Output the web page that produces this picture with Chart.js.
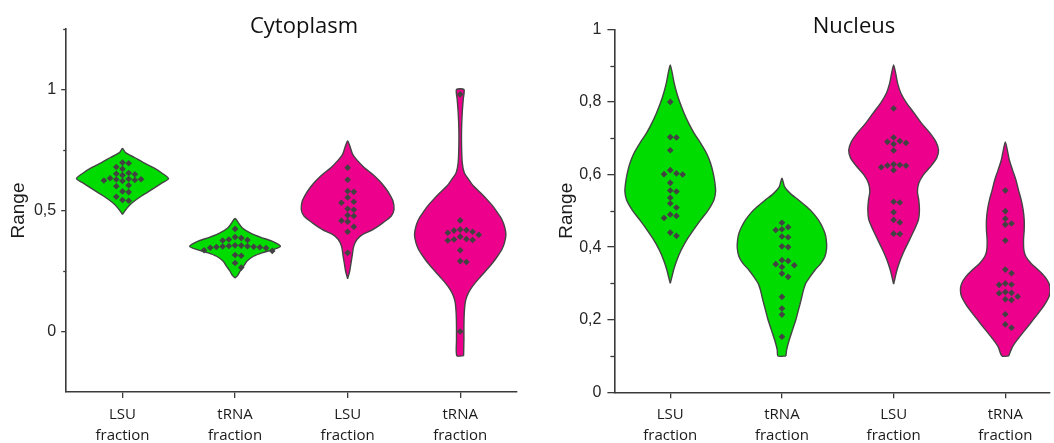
<!DOCTYPE html>
<html>
<head>
<meta charset="utf-8">
<title>Cytoplasm / Nucleus</title>
<script src="https://cdn.jsdelivr.net/npm/chart.js@4.4.1/dist/chart.umd.min.js"></script>
<style>
  html, body { margin: 0; padding: 0; background: #fff; overflow: hidden; }
  #wrap { position: relative; width: 1054px; height: 443px; }
  .panel { position: absolute; top: 0; width: 527px; height: 443px; }
  .panel canvas { display: block; }
  .title { position: absolute; top: 13px; width: 200px; text-align: center; font: 22px/22px 'Open Sans', sans-serif; color: #111; }
</style>
</head>
<body>
<div id="wrap">
  <div class="panel" style="left:0"><canvas id="cytoChart" width="527" height="443"></canvas></div>
  <div class="panel" style="left:527px"><canvas id="nucChart" width="527" height="443"></canvas></div>
  <div class="title" style="left:204px">Cytoplasm</div>
  <div class="title" style="left:754px">Nucleus</div>
</div>
<script>
// categories on the x axis (same for both panels)
const categories = [['LSU', 'fraction'], ['tRNA', 'fraction'], ['LSU', 'fraction'], ['tRNA', 'fraction']];
const categoryPos = [1, 2, 3, 4];

// y ticks
const cytoTicks = [0, 0.5, 1];
const cytoTickLabels = ['0', '0,5', '1'];
const cytoMinorTicks = [0.25, 0.75, 1.25];
const nucTicks = [0, 0.2, 0.4, 0.6, 0.8, 1];
const nucTickLabels = ['0', '0,2', '0,4', '0,6', '0,8', '1'];
const nucMinorTicks = [0.1, 0.3, 0.5, 0.7, 0.9];

// violin outlines: levels (y) and half widths (in category units)
const cytoLsuLevels = [0.484, 0.512, 0.533, 0.560, 0.588, 0.615, 0.632, 0.656, 0.677, 0.698, 0.719, 0.739, 0.756];
const cytoLsuWidths = [0, 0.044, 0.089, 0.169, 0.266, 0.355, 0.409, 0.346, 0.275, 0.186, 0.107, 0.027, 0];
const cytoTrnaLevels = [0.221, 0.232, 0.249, 0.269, 0.290, 0.311, 0.325, 0.339, 0.352, 0.373, 0.390, 0.408, 0.428, 0.449, 0.467];
const cytoTrnaWidths = [0, 0.024, 0.045, 0.075, 0.105, 0.164, 0.239, 0.343, 0.403, 0.328, 0.224, 0.134, 0.065, 0.03, 0];
const cytoLsuPinkLevels = [0.218, 0.249, 0.283, 0.318, 0.352, 0.380, 0.401, 0.421, 0.449, 0.477, 0.504, 0.539, 0.567, 0.594, 0.622, 0.649, 0.677, 0.705, 0.732, 0.760, 0.787];
const cytoLsuPinkWidths = [0, 0.018, 0.03, 0.042, 0.054, 0.083, 0.134, 0.224, 0.313, 0.388, 0.412, 0.403, 0.373, 0.334, 0.284, 0.224, 0.149, 0.09, 0.045, 0.024, 0];
const cytoTrnaPinkLevels = [-0.1, -0.034, 0.021, 0.076, 0.118, 0.145, 0.173, 0.201, 0.228, 0.256, 0.283, 0.311, 0.339, 0.366, 0.401, 0.435, 0.463, 0.491, 0.518, 0.546, 0.574, 0.601, 0.629, 0.656, 0.698, 0.767, 0.836, 0.905, 0.960, 1.0];
const cytoTrnaPinkWidths = [0.03, 0.033, 0.033, 0.036, 0.044, 0.059, 0.089, 0.133, 0.184, 0.237, 0.287, 0.331, 0.37, 0.393, 0.406, 0.393, 0.37, 0.331, 0.29, 0.237, 0.178, 0.118, 0.074, 0.036, 0.018, 0.012, 0.012, 0.018, 0.027, 0.033];

const nucLsuLevels = [0.300, 0.318, 0.337, 0.364, 0.392, 0.420, 0.447, 0.475, 0.502, 0.530, 0.553, 0.576, 0.603, 0.631, 0.658, 0.686, 0.714, 0.741, 0.769, 0.796, 0.824, 0.851, 0.879, 0.902];
const nucLsuWidths = [0, 0.015, 0.03, 0.059, 0.098, 0.148, 0.207, 0.273, 0.34, 0.391, 0.406, 0.4, 0.385, 0.361, 0.326, 0.273, 0.213, 0.166, 0.124, 0.089, 0.059, 0.036, 0.018, 0];
const nucTrnaLevels = [0.100, 0.117, 0.144, 0.172, 0.199, 0.227, 0.254, 0.282, 0.300, 0.318, 0.337, 0.355, 0.374, 0.397, 0.420, 0.438, 0.456, 0.475, 0.493, 0.511, 0.530, 0.548, 0.566, 0.590];
const nucTrnaWidths = [0.036, 0.042, 0.065, 0.095, 0.124, 0.148, 0.171, 0.193, 0.213, 0.251, 0.296, 0.349, 0.385, 0.4, 0.397, 0.385, 0.361, 0.326, 0.281, 0.222, 0.148, 0.074, 0.024, 0];
const nucLsuPinkLevels = [0.298, 0.318, 0.337, 0.364, 0.392, 0.420, 0.447, 0.475, 0.502, 0.530, 0.553, 0.576, 0.599, 0.622, 0.645, 0.667, 0.690, 0.714, 0.741, 0.769, 0.796, 0.824, 0.851, 0.879, 0.902];
const nucLsuPinkWidths = [0, 0.015, 0.03, 0.059, 0.098, 0.142, 0.184, 0.222, 0.231, 0.225, 0.213, 0.225, 0.266, 0.331, 0.385, 0.402, 0.379, 0.326, 0.251, 0.184, 0.118, 0.065, 0.036, 0.018, 0];
const nucTrnaPinkLevels = [0.100, 0.126, 0.149, 0.172, 0.195, 0.218, 0.240, 0.263, 0.282, 0.300, 0.318, 0.337, 0.355, 0.374, 0.392, 0.420, 0.447, 0.475, 0.502, 0.530, 0.557, 0.585, 0.612, 0.640, 0.667, 0.690];
const nucTrnaPinkWidths = [0.03, 0.065, 0.118, 0.178, 0.237, 0.296, 0.349, 0.391, 0.402, 0.391, 0.355, 0.296, 0.231, 0.184, 0.166, 0.163, 0.169, 0.169, 0.16, 0.142, 0.118, 0.095, 0.065, 0.036, 0.018, 0];

// individual measurements
const cytoLsuDots = [0.698, 0.695, 0.680, 0.672, 0.655, 0.652, 0.650, 0.646, 0.633, 0.630, 0.629, 0.628, 0.626, 0.624, 0.622, 0.604, 0.600, 0.579, 0.576, 0.557, 0.543, 0.540];
const cytoTrnaDots = [0.424, 0.390, 0.386, 0.380, 0.378, 0.376, 0.356, 0.355, 0.353, 0.352, 0.351, 0.350, 0.349, 0.348, 0.346, 0.345, 0.336, 0.333, 0.316, 0.313, 0.283, 0.264];
const cytoLsuPinkDots = [0.677, 0.627, 0.580, 0.577, 0.554, 0.536, 0.532, 0.507, 0.503, 0.480, 0.477, 0.458, 0.454, 0.433, 0.412, 0.325];
const cytoTrnaPinkDots = [0.980, 0.459, 0.421, 0.419, 0.417, 0.412, 0.408, 0.400, 0.392, 0.382, 0.380, 0.378, 0.376, 0.336, 0.291, 0.287, 0.000];
const nucLsuDots = [0.800, 0.703, 0.702, 0.667, 0.612, 0.603, 0.601, 0.600, 0.577, 0.556, 0.553, 0.536, 0.520, 0.509, 0.490, 0.486, 0.480, 0.440, 0.431];
const nucTrnaDots = [0.467, 0.455, 0.449, 0.447, 0.429, 0.427, 0.402, 0.400, 0.364, 0.362, 0.353, 0.350, 0.345, 0.327, 0.318, 0.263, 0.231, 0.214, 0.153];
const nucLsuPinkDots = [0.782, 0.702, 0.692, 0.690, 0.687, 0.684, 0.666, 0.628, 0.626, 0.625, 0.624, 0.620, 0.612, 0.525, 0.523, 0.496, 0.475, 0.468, 0.437, 0.436];
const nucTrnaPinkDots = [0.556, 0.499, 0.478, 0.465, 0.462, 0.418, 0.338, 0.328, 0.300, 0.297, 0.296, 0.276, 0.274, 0.273, 0.264, 0.256, 0.254, 0.215, 0.187, 0.178];

const GREEN = '#00dc00';
const PINK = '#ec008c';
const OUTLINE = '#444444';
const AXIS = '#3a3a3a';
const DOT = '#424242';
const DOT_STEP = 6.2;  // px between neighbouring dots
const DOT_GAP = 5.8;   // min px distance between dot centres

function violinPoints(center, levels, widths) {
  const pts = [];
  const n = levels.length;
  for (let i = 0; i < n; i++) pts.push({ x: center + widths[i], y: levels[i] });
  for (let i = n - 1; i >= 0; i--) {
    if (i === n - 1 && widths[i] === 0) continue;
    pts.push({ x: center - widths[i], y: levels[i] });
  }
  if (widths[0] > 0) pts.push({ x: center + widths[0], y: levels[0] });
  return pts;
}

function violinDataset(center, levels, widths, color) {
  return {
    data: violinPoints(center, levels, widths),
    showLine: true,
    fill: 'shape',
    backgroundColor: color,
    borderColor: OUTLINE,
    borderWidth: 1.4,
    tension: 0.25,
    pointRadius: 0,
    order: 2,
  };
}

function dotDataset(center, values) {
  return {
    data: values.map((v) => ({ x: center, y: v })),
    dotValues: values,
    center: center,
    pointStyle: 'rectRot',
    pointRadius: 3.3,
    backgroundColor: DOT,
    borderWidth: 0,
    order: 1,
  };
}

// simple beeswarm in pixel space
function swarm(values, center, yScale, pxPerUnit) {
  const order = values.map((v, i) => i).sort((a, b) => values[b] - values[a]);
  const placed = [];
  const out = new Array(values.length);
  order.forEach((i) => {
    const py = yScale.getPixelForValue(values[i]);
    for (let k = 0; k < 40; k++) {
      const off = k === 0 ? 0 : (k % 2 ? 1 : -1) * Math.ceil(k / 2) * DOT_STEP;
      const ok = placed.every((p) => Math.hypot(p.x - off, p.y - py) >= DOT_GAP);
      if (ok) {
        placed.push({ x: off, y: py });
        out[i] = { x: center + off / pxPerUnit, y: values[i] };
        break;
      }
    }
  });
  return out;
}

function placeDots(chart) {
  const xs = chart.scales.x;
  const pxPerUnit = xs.getPixelForValue(1) - xs.getPixelForValue(0);
  chart.data.datasets.forEach((ds) => {
    if (!ds.dotValues) return;
    ds.data = swarm(ds.dotValues, ds.center, chart.scales.y, pxPerUnit);
  });
  chart.update('none');
}

const minorTickPlugin = {
  id: 'minorTicks',
  afterDraw(chart, args, opts) {
    const y = chart.scales.y;
    const ctx = chart.ctx;
    ctx.save();
    ctx.strokeStyle = AXIS;
    ctx.lineWidth = 1.3;
    (opts.values || []).forEach((v) => {
      const py = Math.round(y.getPixelForValue(v)) + 0.5;
      ctx.beginPath();
      ctx.moveTo(y.right - opts.length, py);
      ctx.lineTo(y.right, py);
      ctx.stroke();
    });
    ctx.restore();
  },
};

function makeChart(canvasId, cfg) {
  return new Chart(document.getElementById(canvasId), {
    type: 'scatter',
    data: { datasets: cfg.datasets },
    options: {
      responsive: false,
      animation: false,
      events: [],
      layout: { padding: { top: cfg.padTop, right: cfg.padRight, bottom: 0, left: 0 } },
      plugins: {
        legend: { display: false },
        tooltip: { enabled: false },
        minorTicks: { values: cfg.minor, length: cfg.minorLength },
      },
      scales: {
        x: {
          type: 'linear',
          min: 0.5,
          max: cfg.xMax,
          afterBuildTicks: (s) => { s.ticks = categoryPos.map((v) => ({ value: v })); },
          afterFit: (s) => { s.height = cfg.xHeight; },
          grid: { drawOnChartArea: false, drawTicks: true, tickLength: 6, color: AXIS, lineWidth: 1.3 },
          border: { display: true, color: AXIS, width: 1.6 },
          ticks: {
            autoSkip: false,
            maxRotation: 0,
            padding: 6,
            color: '#1a1a1a',
            font: { family: "'Open Sans', sans-serif", size: 15, lineHeight: 1.4 },
            callback: (v, i) => categories[i],
          },
        },
        y: {
          type: 'linear',
          min: cfg.yMin,
          max: cfg.yMax,
          afterBuildTicks: (s) => { s.ticks = cfg.ticks.map((v) => ({ value: v })); },
          afterFit: (s) => { s.width = cfg.yWidth; },
          grid: { drawOnChartArea: false, drawTicks: true, tickLength: cfg.tickLength, color: AXIS, lineWidth: 1.3 },
          border: { display: true, color: AXIS, width: 1.6 },
          ticks: {
            padding: cfg.tickPad,
            color: '#262626',
            font: { family: "'Liberation Sans', Arial, sans-serif", size: 16 },
            callback: (v, i) => cfg.tickLabels[i],
          },
          title: {
            display: true,
            text: 'Range',
            color: '#1a1a1a',
            font: { family: "'Liberation Sans', Arial, sans-serif", size: 19 },
            padding: { top: cfg.titlePad, bottom: 0 },
          },
        },
      },
    },
    plugins: [minorTickPlugin],
  });
}

const cytoChart = makeChart('cytoChart', {
  datasets: [
    dotDataset(1, cytoLsuDots),
    dotDataset(2, cytoTrnaDots),
    dotDataset(3, cytoLsuPinkDots),
    dotDataset(4, cytoTrnaPinkDots),
    violinDataset(1, cytoLsuLevels, cytoLsuWidths, GREEN),
    violinDataset(2, cytoTrnaLevels, cytoTrnaWidths, GREEN),
    violinDataset(3, cytoLsuPinkLevels, cytoLsuPinkWidths, PINK),
    violinDataset(4, cytoTrnaPinkLevels, cytoTrnaPinkWidths, PINK),
  ],
  yMin: -0.25, yMax: 1.25, xMax: 4.5,
  ticks: cytoTicks, tickLabels: cytoTickLabels, minor: cytoMinorTicks,
  padTop: 29, padRight: 10.5, yWidth: 66.2, xHeight: 51,
  tickLength: 5, minorLength: 3, tickPad: 5, titlePad: 7,
});

const nucChart = makeChart('nucChart', {
  datasets: [
    dotDataset(1, nucLsuDots),
    dotDataset(2, nucTrnaDots),
    dotDataset(3, nucLsuPinkDots),
    dotDataset(4, nucTrnaPinkDots),
    violinDataset(1, nucLsuLevels, nucLsuWidths, GREEN),
    violinDataset(2, nucTrnaLevels, nucTrnaWidths, GREEN),
    violinDataset(3, nucLsuPinkLevels, nucLsuPinkWidths, PINK),
    violinDataset(4, nucTrnaPinkLevels, nucTrnaPinkWidths, PINK),
  ],
  yMin: 0, yMax: 1, xMax: 4.4,
  ticks: nucTicks, tickLabels: nucTickLabels, minor: nucMinorTicks,
  padTop: 29.3, padRight: 0, yWidth: 87.4, xHeight: 50.7,
  tickLength: 7, minorLength: 4, tickPad: 6, titlePad: 28,
});

placeDots(cytoChart);
placeDots(nucChart);
</script>
</body>
</html>
